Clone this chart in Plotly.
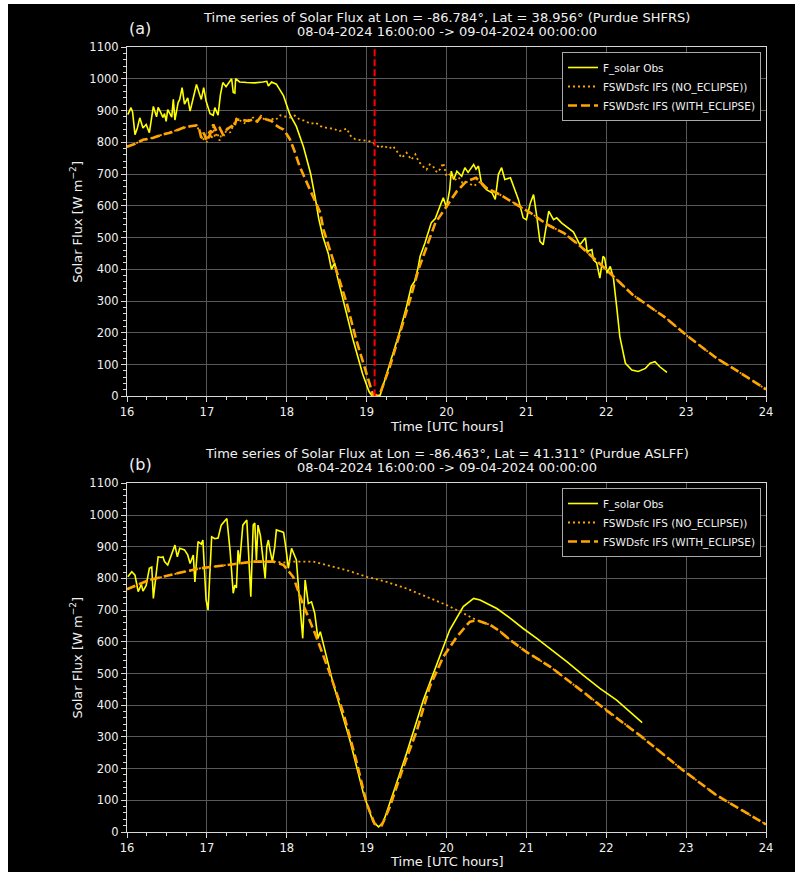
import plotly.graph_objects as go

# ---------------- Panel (a): Purdue SHFRS ----------------
a_obs_t = [16.01, 16.05, 16.07, 16.10, 16.13, 16.16, 16.20, 16.24, 16.28, 16.30, 16.33, 16.37, 16.39, 16.42,
           16.45, 16.47, 16.49, 16.51, 16.56, 16.58, 16.60, 16.64, 16.66, 16.69, 16.72, 16.76, 16.79, 16.83,
           16.87, 16.91, 16.93, 16.96, 16.99, 17.04, 17.08, 17.10, 17.14, 17.17, 17.20, 17.24, 17.27, 17.31,
           17.33, 17.35, 17.36, 17.41, 17.50, 17.60, 17.70, 17.75, 17.77, 17.81, 17.87, 17.96, 18.04, 18.12,
           18.21, 18.30, 18.36, 18.40, 18.45, 18.52, 18.56, 18.60, 18.63, 18.71, 18.83, 18.95, 19.03, 19.06,
           19.10, 19.17, 19.29, 19.42, 19.50, 19.54, 19.56, 19.60, 19.64, 19.67, 19.73, 19.81, 19.86, 19.92,
           19.96, 20.00, 20.04, 20.06, 20.09, 20.13, 20.19, 20.23, 20.27, 20.34, 20.37, 20.40, 20.44, 20.50,
           20.57, 20.61, 20.65, 20.69, 20.73, 20.80, 20.84, 20.90, 20.96, 21.00, 21.05, 21.09, 21.13, 21.17,
           21.21, 21.26, 21.28, 21.34, 21.38, 21.44, 21.50, 21.59, 21.67, 21.74, 21.76, 21.82, 21.84, 21.88,
           21.92, 21.96, 21.98, 22.01, 22.05, 22.09, 22.13, 22.17, 22.24, 22.32, 22.40, 22.49, 22.55, 22.61,
           22.67, 22.76]
a_obs_v = [887, 909, 895, 824, 845, 877, 845, 856, 830, 870, 913, 880, 910, 895,
           878, 890, 866, 903, 879, 935, 870, 925, 935, 972, 920, 940, 898, 940,
           982, 950, 935, 972, 930, 890, 885, 909, 885, 950, 988, 975, 985, 1000,
           957, 955, 1000, 990, 988, 987, 990, 992, 977, 990, 983, 946, 887, 850,
           785, 700, 620, 560, 505, 450, 400, 420, 380, 298, 178, 70, 15, 4,
           0, 4, 99, 209, 283, 330, 346, 362, 400, 441, 483, 547, 560, 600,
           625, 594, 651, 709, 683, 709, 693, 720, 705, 730, 715, 725, 667, 651,
           641, 620, 699, 720, 683, 688, 662, 620, 562, 556, 609, 635, 567, 488,
           477, 556, 583, 556, 562, 546, 535, 517, 477, 499, 456, 462, 430, 420,
           372, 441, 435, 388, 409, 372, 283, 188, 104, 83, 78, 88, 104, 109,
           93, 75]

a_noecl_t = [16.00, 16.10, 16.20, 16.33, 16.45, 16.54, 16.65, 16.74, 16.87, 16.92, 16.95, 16.98, 17.00, 17.03,
             17.06, 17.08, 17.10, 17.13, 17.16, 17.19, 17.22, 17.25, 17.29, 17.33, 17.37, 17.42, 17.47, 17.52,
             17.58, 17.63, 17.68, 17.74, 17.80, 17.86, 17.92, 17.96, 18.04, 18.10, 18.16, 18.22, 18.30, 18.36,
             18.42, 18.50, 18.58, 18.66, 18.75, 18.80, 18.86, 18.95, 19.04, 19.10, 19.17, 19.21, 19.28, 19.33,
             19.38, 19.44, 19.50, 19.56, 19.61, 19.65, 19.70, 19.75, 19.79, 19.83, 19.88, 19.92, 19.96, 20.00,
             20.05, 20.10, 20.15, 20.20, 20.25, 20.30, 20.34, 20.42, 20.50, 20.67, 20.84, 21.05, 21.26, 21.47,
             21.68, 22.00, 22.33, 22.75, 23.00, 23.38, 23.59, 24.00]
a_noecl_v = [785, 795, 806, 815, 826, 832, 840, 848, 852, 830, 805, 820, 800, 840,
             810, 850, 815, 830, 805, 835, 820, 845, 830, 855, 875, 868, 860, 870,
             878, 866, 880, 868, 875, 870, 885, 882, 878, 884, 872, 868, 858, 862,
             851, 845, 843, 835, 843, 820, 809, 806, 803, 795, 782, 790, 780, 788,
             770, 751, 767, 745, 762, 740, 725, 714, 730, 725, 705, 715, 735, 693,
             700, 680, 690, 672, 675, 668, 662, 675, 656, 635, 609, 578, 541, 514,
             472, 399, 320, 246, 193, 120, 88, 22]

a_ecl_t = [16.00, 16.10, 16.20, 16.33, 16.45, 16.54, 16.65, 16.74, 16.87, 16.90, 16.93, 16.96, 17.00, 17.04,
           17.08, 17.12, 17.16, 17.20, 17.25, 17.31, 17.34, 17.37, 17.45, 17.52, 17.58, 17.63, 17.68, 17.74,
           17.81, 17.85, 17.91, 17.96, 18.00, 18.04, 18.10, 18.16, 18.29, 18.42, 18.46, 18.62, 18.75, 18.87,
           19.00, 19.08, 19.12, 19.17, 19.29, 19.42, 19.55, 19.65, 19.74, 19.86, 20.00, 20.13, 20.25, 20.37,
           20.50, 20.67, 20.84, 21.05, 21.26, 21.47, 21.68, 22.00, 22.33, 22.75, 23.00, 23.38, 23.59, 24.00]
a_ecl_v = [786, 795, 808, 814, 825, 830, 840, 849, 853, 845, 814, 830, 804, 825,
           856, 835, 845, 825, 840, 851, 845, 872, 870, 867, 872, 865, 882, 872,
           867, 856, 846, 840, 825, 809, 770, 725, 651, 578, 525, 399, 294, 178,
           73, 4, 2, 10, 93, 199, 310, 400, 462, 546, 598, 646, 677, 688,
           656, 635, 609, 578, 541, 514, 472, 399, 320, 246, 193, 120, 88, 22]

a_eclipse_max_t = 19.1

# ---------------- Panel (b): Purdue ASLFF ----------------
b_obs_t = [16.01, 16.06, 16.10, 16.14, 16.18, 16.20, 16.24, 16.28, 16.31, 16.33, 16.39, 16.43, 16.45, 16.47,
           16.51, 16.56, 16.60, 16.63, 16.66, 16.72, 16.76, 16.79, 16.83, 16.85, 16.89, 16.93, 16.95, 16.97,
           16.99, 17.015, 17.06, 17.10, 17.14, 17.18, 17.25, 17.29, 17.33, 17.35, 17.37, 17.39, 17.41, 17.45,
           17.50, 17.52, 17.55, 17.58, 17.60, 17.62, 17.64, 17.67, 17.70, 17.73, 17.75, 17.77, 17.79, 17.82,
           17.85, 17.87, 17.93, 17.96, 17.99, 18.02, 18.06, 18.12, 18.16, 18.20, 18.23, 18.27, 18.31, 18.35,
           18.39, 18.42, 18.58, 18.79, 18.96, 19.08, 19.15, 19.21, 19.33, 19.50, 19.71, 19.88, 20.04, 20.21,
           20.34, 20.42, 20.63, 20.80, 20.96, 21.13, 21.51, 21.71, 21.92, 22.13, 22.45]
b_obs_v = [805, 821, 810, 758, 781, 760, 778, 832, 836, 737, 868, 866, 868, 853,
           842, 874, 905, 868, 895, 890, 874, 847, 874, 789, 916, 908, 921, 826,
           732, 700, 931, 925, 927, 968, 989, 889, 753, 779, 770, 889, 847, 968,
           984, 889, 742, 968, 975, 858, 968, 935, 858, 800, 900, 921, 890, 853,
           900, 953, 948, 945, 895, 832, 895, 858, 732, 611, 795, 721, 726, 690,
           611, 632, 469, 290, 121, 32, 16, 32, 121, 248, 416, 532, 637, 711,
           737, 732, 705, 674, 642, 611, 537, 495, 453, 416, 345]

b_noecl_t = [16.00, 16.28, 16.63, 16.92, 17.25, 17.58, 17.83, 17.96, 18.08, 18.33, 18.50, 18.75, 19.00, 19.25,
             19.50, 19.75, 20.00, 20.21, 20.38, 20.55, 20.67, 20.80, 21.00, 21.30, 21.71, 22.00, 22.42, 22.96,
             23.38, 23.80, 24.00]
b_noecl_v = [766, 795, 816, 832, 842, 853, 853, 850, 853, 853, 842, 826, 805, 789,
             768, 742, 716, 690, 668, 653, 633, 605, 568, 521, 442, 384, 305, 195,
             116, 53, 24]

b_ecl_t = [16.00, 16.28, 16.63, 16.92, 17.25, 17.58, 17.83, 17.93, 17.96, 18.08, 18.20, 18.37, 18.54, 18.71,
           18.87, 19.00, 19.10, 19.19, 19.29, 19.46, 19.63, 19.79, 19.96, 20.13, 20.29, 20.38, 20.55, 20.67,
           20.80, 21.00, 21.30, 21.71, 22.00, 22.42, 22.96, 23.38, 23.80, 24.00]
b_ecl_v = [766, 795, 816, 832, 842, 853, 853, 845, 842, 805, 721, 616, 500, 374,
           226, 90, 26, 21, 79, 205, 321, 458, 553, 616, 663, 668, 653, 633,
           605, 568, 521, 442, 384, 305, 195, 116, 53, 24]

titles = [
    ("Time series of Solar Flux at Lon = -86.784°, Lat = 38.956° (Purdue SHFRS)",
     "08-04-2024 16:00:00 -> 09-04-2024 00:00:00", "(a)"),
    ("Time series of Solar Flux at Lon = -86.463°, Lat = 41.311° (Purdue ASLFF)",
     "08-04-2024 16:00:00 -> 09-04-2024 00:00:00", "(b)"),
]
names = ["F_solar Obs", "FSWDsfc IFS (NO_ECLIPSE))", "FSWDsfc IFS (WITH_ECLIPSE)"]
x_ticks = [16, 17, 18, 19, 20, 21, 22, 23, 24]
y_ticks = [0, 100, 200, 300, 400, 500, 600, 700, 800, 900, 1000, 1100]

# ---------------- Geometry (pixels) ----------------
W, H = 795, 872
ML, MR, MT, MB = 127, 29, 47, 40
PW, PH = W - ML - MR, H - MT - MB


def py(p):  # pixel y -> paper y
    return (H - MB - p) / PH


def px(p):  # pixel x -> paper x
    return (p - ML) / PW


FONT = "DejaVu Sans"
TXT = "#f0f0f0"
SPINE = "#d8d8d8"
GRID = "#585858"
YEL = "#ffff00"
ORA = "#ffa500"

fig = go.Figure()

panels = [
    ("x", "y", "legend", a_obs_t, a_obs_v, a_noecl_t, a_noecl_v, a_ecl_t, a_ecl_v),
    ("x2", "y2", "legend2", b_obs_t, b_obs_v, b_noecl_t, b_noecl_v, b_ecl_t, b_ecl_v),
]
for xa, ya, lg, ot, ov, nt, nv, et, ev in panels:
    fig.add_trace(go.Scatter(x=ot, y=ov, mode="lines", name=names[0], xaxis=xa, yaxis=ya, legend=lg,
                             line=dict(color=YEL, width=1.6)))
    fig.add_trace(go.Scatter(x=nt, y=nv, mode="lines", name=names[1], xaxis=xa, yaxis=ya, legend=lg,
                             line=dict(color=ORA, width=1.8, dash="2px,3px")))
    fig.add_trace(go.Scatter(x=et, y=ev, mode="lines", name=names[2], xaxis=xa, yaxis=ya, legend=lg,
                             line=dict(color=ORA, width=2.6, dash="9px,4px")))

# red dashed vertical line (panel a)
fig.add_shape(type="line", xref="x", yref="y", x0=a_eclipse_max_t, x1=a_eclipse_max_t, y0=0, y1=1100,
              line=dict(color="#ff0000", width=2, dash="7px,3px"))

ax_common = dict(
    showline=True, mirror=True, linecolor=SPINE, linewidth=1.2,
    showgrid=True, gridcolor=GRID, gridwidth=1,
    ticks="outside", ticklen=5, tickwidth=1, tickcolor=SPINE,
    tickfont=dict(family=FONT, size=11.5, color=TXT),
    zeroline=False,
)
dom_a = [py(396.3), 1.0]
dom_b = [0.0, py(483.3)]

fig.update_layout(
    width=W, height=H,
    margin=dict(l=ML, r=MR, t=MT, b=MB, pad=0),
    paper_bgcolor="black", plot_bgcolor="black",
    font=dict(family=FONT, color=TXT),
    xaxis=dict(domain=[0, 1], anchor="y", range=[16, 24], tickvals=x_ticks,
               minor=dict(dtick=0.25, ticks="outside", ticklen=3, tickcolor=SPINE, showgrid=False),
               **ax_common),
    yaxis=dict(domain=dom_a, anchor="x", range=[0, 1100], tickvals=y_ticks,
               minor=dict(dtick=20, ticks="outside", ticklen=3, tickcolor=SPINE, showgrid=False),
               **ax_common),
    xaxis2=dict(domain=[0, 1], anchor="y2", range=[16, 24], tickvals=x_ticks,
                minor=dict(dtick=0.25, ticks="outside", ticklen=3, tickcolor=SPINE, showgrid=False),
                **ax_common),
    yaxis2=dict(domain=dom_b, anchor="x2", range=[0, 1100], tickvals=y_ticks,
                minor=dict(dtick=20, ticks="outside", ticklen=3, tickcolor=SPINE, showgrid=False),
                **ax_common),
    legend=dict(x=px(761), y=py(52), xanchor="right", yanchor="top",
                bgcolor="black", bordercolor="#aaaaaa", borderwidth=1,
                font=dict(family=FONT, size=10.5, color=TXT), itemwidth=30, tracegroupgap=0),
    legend2=dict(x=px(761), y=py(488), xanchor="right", yanchor="top",
                 bgcolor="black", bordercolor="#aaaaaa", borderwidth=1,
                 font=dict(family=FONT, size=10.5, color=TXT), itemwidth=30, tracegroupgap=0),
    showlegend=True,
)

# titles, panel labels, axis titles
for (l1, l2, lab), top, bottom in zip(titles, [47, 483.3], [396.3, 831.7]):
    fig.add_annotation(text=l1, xref="paper", yref="paper", x=px(446.5), y=py(top - 30),
                       xanchor="center", yanchor="middle", showarrow=False,
                       font=dict(family=FONT, size=13, color=TXT))
    fig.add_annotation(text=l2, xref="paper", yref="paper", x=px(446.5), y=py(top - 16),
                       xanchor="center", yanchor="middle", showarrow=False,
                       font=dict(family=FONT, size=13, color=TXT))
    fig.add_annotation(text=lab, xref="paper", yref="paper", x=px(127), y=py(top - 19),
                       xanchor="left", yanchor="middle", showarrow=False,
                       font=dict(family=FONT, size=16, color=TXT))
    fig.add_annotation(text="Time [UTC hours]", xref="paper", yref="paper", x=px(446.5), y=py(bottom + 30),
                       xanchor="center", yanchor="middle", showarrow=False,
                       font=dict(family=FONT, size=13, color=TXT))
    fig.add_annotation(text="Solar Flux [W m<sup>−2</sup>]", xref="paper", yref="paper", x=px(76),
                       y=py((top + bottom) / 2), xanchor="center", yanchor="middle", textangle=-90,
                       showarrow=False, font=dict(family=FONT, size=13, color=TXT))

# white strips at the left and top edges of the image
fig.add_shape(type="rect", xref="paper", yref="paper", x0=px(-5), x1=px(8), y0=py(H + 5), y1=py(-5),
              fillcolor="white", line=dict(width=0), layer="above")
fig.add_shape(type="rect", xref="paper", yref="paper", x0=px(-5), x1=px(W + 5), y0=py(4), y1=py(-5),
              fillcolor="white", line=dict(width=0), layer="above")

fig.write_html("out.html")
